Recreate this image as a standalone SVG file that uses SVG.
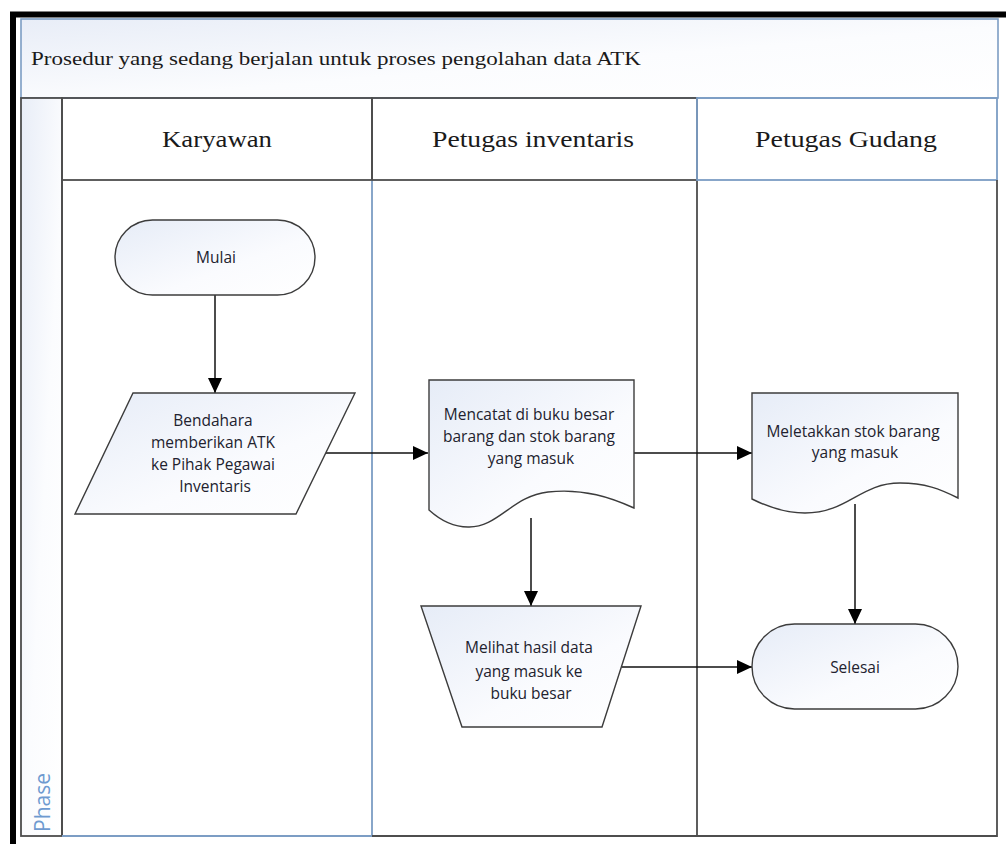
<svg xmlns="http://www.w3.org/2000/svg" width="1006" height="844" viewBox="0 0 1006 844">
  <style>
    .shape { stroke: #3c3c3c; stroke-width: 1.4; fill: url(#nodeFill); }
    .lbl { font-family: "Open Sans", "Noto Sans", "DejaVu Sans", sans-serif; font-size: 15.5px; fill: #22222e; text-anchor: middle; }
    .head { font-family: "Liberation Serif", "DejaVu Serif", serif; font-size: 24px; fill: #1a1a1a; text-anchor: middle; }
    .lane { fill: none; stroke: #4d4d4d; stroke-width: 1.8; }
    .blue { fill: none; stroke: #7c9dc4; stroke-width: 1.8; }
    .conn { fill: none; stroke: #111; stroke-width: 1.5; marker-end: url(#arrow); }
  </style>
  <defs>
    <linearGradient id="nodeFill" x1="0" y1="0" x2="1" y2="1">
      <stop offset="0" stop-color="#e6ecf7"/>
      <stop offset="0.6" stop-color="#fafbfe"/>
      <stop offset="1" stop-color="#ffffff"/>
    </linearGradient>
    <linearGradient id="headFill" x1="0" y1="0" x2="1" y2="1">
      <stop offset="0" stop-color="#e8edf7"/>
      <stop offset="0.55" stop-color="#fbfcfe"/>
      <stop offset="1" stop-color="#ffffff"/>
    </linearGradient>
    <marker id="arrow" viewBox="0 0 10 10" refX="10" refY="5" markerWidth="15" markerHeight="14" markerUnits="userSpaceOnUse" orient="auto" preserveAspectRatio="none">
      <path d="M0,0 L10,5 L0,10 z" fill="#000"/>
    </marker>
  </defs>

  <rect width="1006" height="844" fill="#ffffff"/>

  <!-- outer frame -->
  <path d="M13,844 V14.5 H1006" fill="none" stroke="#000" stroke-width="6"/>

  <!-- pool title -->
  <g id="pool-title">
    <rect x="21" y="19" width="977" height="79" fill="url(#headFill)" stroke="#7c9dc4" stroke-width="1.6"/>
    <text x="31" y="65" font-family="Liberation Serif, DejaVu Serif, serif" font-size="18" fill="#1a1a1a" textLength="610" lengthAdjust="spacingAndGlyphs">Prosedur yang sedang berjalan untuk proses pengolahan data ATK</text>
  </g>

  <!-- phase column -->
  <g id="phase">
    <rect x="21" y="98" width="41" height="738" fill="url(#headFill)" stroke="#4d4d4d" stroke-width="1.8"/>
    <text transform="translate(50,832) rotate(-90)" font-family="Open Sans, Noto Sans, sans-serif" font-size="21" fill="#6e9ad0">Phase</text>
  </g>

  <!-- lanes -->
  <g id="lane-karyawan">
    <rect x="62" y="98" width="310" height="82" fill="url(#headFill)" class="lane"/>
    <path d="M62,180 V836" class="lane"/>
    <path d="M62,836 H372 V180" class="blue"/>
    <text x="217" y="147" class="head" textLength="110" lengthAdjust="spacingAndGlyphs">Karyawan</text>
  </g>
  <g id="lane-inventaris">
    <rect x="372" y="98" width="325" height="82" fill="url(#headFill)" class="lane"/>
    <path d="M372,836 H697 V180" class="lane"/>
    <text x="533" y="147" class="head" textLength="202" lengthAdjust="spacingAndGlyphs">Petugas inventaris</text>
  </g>
  <g id="lane-gudang">
    <rect x="697" y="98" width="300" height="82" fill="url(#headFill)" class="blue"/>
    <path d="M697,836 H997 V180" class="lane"/>
    <text x="846" y="147" class="head" textLength="182" lengthAdjust="spacingAndGlyphs">Petugas Gudang</text>
  </g>

  <!-- connectors -->
  <g id="connectors">
    <path d="M215,295 V393" class="conn"/>
    <path d="M326,453 H428" class="conn"/>
    <path d="M634,453 H752" class="conn"/>
    <path d="M531,518 V606" class="conn"/>
    <path d="M855,504 V624" class="conn"/>
    <path d="M622,667 H752" class="conn"/>
  </g>

  <!-- nodes -->
  <g id="mulai">
    <rect x="115" y="220" width="200" height="75" rx="37.5" ry="37.5" class="shape"/>
    <text x="216" y="263" class="lbl">Mulai</text>
  </g>

  <g id="bendahara">
    <path d="M133,393 H355 L296,514 H75 Z" class="shape"/>
    <text class="lbl">
      <tspan x="215" y="426">Bendahara</tspan>
      <tspan x="215" y="448">memberikan ATK</tspan>
      <tspan x="215" y="470">ke Pihak Pegawai</tspan>
      <tspan x="215" y="492">Inventaris</tspan>
    </text>
  </g>

  <g id="mencatat">
    <path d="M429,380 H634 V508 C612,498 584,488 548,492 C512,496 498,528 468,527 C452,527 440,520 429,510 Z" class="shape"/>
    <text class="lbl">
      <tspan x="531" y="420">Mencatat di buku besar</tspan>
      <tspan x="531" y="442">barang dan stok barang</tspan>
      <tspan x="531" y="464">yang masuk</tspan>
    </text>
  </g>

  <g id="meletakkan">
    <path d="M752,393 H958 V498 C940,489 925,483 900,483 C860,483 848,513 805,513 C785,513 768,507 752,499 Z" class="shape"/>
    <text class="lbl">
      <tspan x="855" y="437">Meletakkan stok barang</tspan>
      <tspan x="855" y="458">yang masuk</tspan>
    </text>
  </g>

  <g id="melihat">
    <path d="M421,606 H641 L602,727 H462 Z" class="shape"/>
    <text class="lbl">
      <tspan x="531" y="653">Melihat hasil data</tspan>
      <tspan x="531" y="677">yang masuk ke</tspan>
      <tspan x="531" y="699">buku besar</tspan>
    </text>
  </g>

  <g id="selesai">
    <rect x="752" y="624" width="206" height="85" rx="42.5" ry="42.5" class="shape"/>
    <text x="855" y="673" class="lbl">Selesai</text>
  </g>
</svg>
